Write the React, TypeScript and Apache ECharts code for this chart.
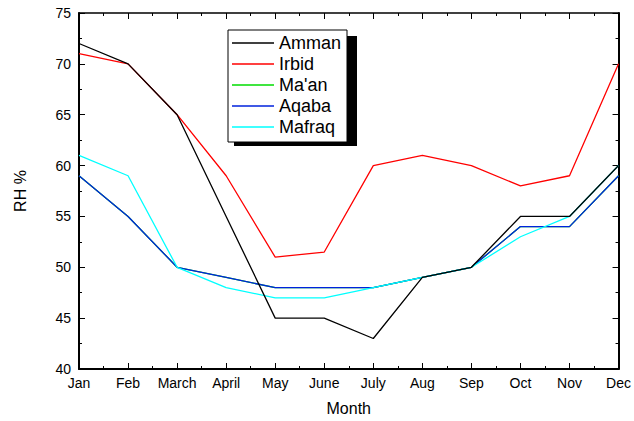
import React, { useEffect, useRef } from "react";
import * as echarts from "echarts";

const months = ["Jan", "Feb", "March", "April", "May", "June", "July", "Aug", "Sep", "Oct", "Nov", "Dec"];
const amman = [72, 70, 65, 55, 45, 45, 43, 49, 50, 55, 55, 60];
const irbid = [71, 70, 65, 59, 51, 51.5, 60, 61, 60, 58, 59, 70];
const maan = [59, 55, 50, 49, 48, 48, 48, 49, 50, 54, 54, 59];
const aqaba = [59, 55, 50, 49, 48, 48, 48, 49, 50, 54, 54, 59];
const mafraq = [61, 59, 50, 48, 47, 47, 48, 49, 50, 53, 55, 60];

const seriesDefs = [
  { name: "Amman", data: amman, color: "#000000", z: 5 },
  { name: "Irbid", data: irbid, color: "#ff0000", z: 4 },
  { name: "Ma'an", data: maan, color: "#00dd00", z: 1 },
  { name: "Aqaba", data: aqaba, color: "#0022dd", z: 2 },
  { name: "Mafraq", data: mafraq, color: "#00ffff", z: 3 },
];

export default function App() {
  const ref = useRef<HTMLDivElement>(null);
  useEffect(() => {
    if (!ref.current) return;
    const chart = echarts.init(ref.current, null, { renderer: "svg" });
    const font = "Liberation Sans, Arial, sans-serif";
    const baseX = {
      type: "value" as const,
      min: 0,
      max: 11,
      interval: 1,
      axisLine: { show: true, onZero: false, lineStyle: { color: "#000", width: 2 } },
      axisTick: { show: true, inside: true, length: 6, lineStyle: { color: "#000", width: 1 } },
      minorTick: { show: true, splitNumber: 2, length: 3, lineStyle: { color: "#000" } },
      splitLine: { show: false },
    };
    const baseY = {
      type: "value" as const,
      min: 40,
      max: 75,
      interval: 5,
      axisLine: { show: true, onZero: false, lineStyle: { color: "#000", width: 2 } },
      axisTick: { show: true, inside: true, length: 6, lineStyle: { color: "#000", width: 1 } },
      minorTick: { show: true, splitNumber: 2, length: 3, lineStyle: { color: "#000" } },
      splitLine: { show: false },
    };
    chart.setOption({
      animation: false,
      backgroundColor: "#fff",
      textStyle: { fontFamily: font },
      grid: { left: 79, right: 13, top: 13, bottom: 49 },
      xAxis: [
        {
          ...baseX,
          position: "bottom",
          name: "Month",
          nameLocation: "middle",
          nameGap: 31,
          nameTextStyle: { fontSize: 16, color: "#000", fontFamily: font },
          axisLabel: {
            color: "#000",
            fontSize: 14,
            fontFamily: font,
            margin: 7,
            formatter: (v: number) => months[v] ?? "",
          },
        },
        {
          ...baseX,
          position: "top",
          axisLine: { show: true, onZero: false, lineStyle: { color: "#000", width: 1.5 } },
          axisLabel: { show: false },
        },
      ],
      yAxis: [
        {
          ...baseY,
          position: "left",
          name: "RH %",
          nameLocation: "middle",
          nameGap: 51,
          nameTextStyle: { fontSize: 16, color: "#000", fontFamily: font },
          axisLabel: { color: "#000", fontSize: 14, fontFamily: font, margin: 8 },
        },
        { ...baseY, position: "right", axisLabel: { show: false } },
      ],
      legend: {
        orient: "vertical",
        left: 228,
        top: 30,
        width: 123,
        padding: [4, 6, 6, 4],
        itemGap: 3,
        itemWidth: 42,
        itemHeight: 18,
        icon: "path://M0,8 L42,8 L42,9.5 L0,9.5 Z",
        backgroundColor: "#fff",
        borderColor: "#000",
        borderWidth: 1,
        textStyle: { fontSize: 18, color: "#000", fontFamily: font, padding: [0, 0, 0, 0] },
        data: seriesDefs.map((s) => s.name),
        z: 10,
      },
      graphic: [
        {
          type: "rect",
          left: 234,
          top: 36,
          shape: { width: 123, height: 110 },
          style: { fill: "#000" },
          z: 0,
        },
      ],
      series: seriesDefs.map((s) => ({
        name: s.name,
        type: "line",
        data: s.data.map((v, i) => [i, v]),
        symbol: "none",
        z: s.z,
        itemStyle: { color: s.color },
        lineStyle: { color: s.color, width: 1.3 },
      })),
    });
    return () => chart.dispose();
  }, []);
  return <div ref={ref} style={{ width: 634, height: 421, position: "absolute", left: 0, top: 0 }} />;
}
